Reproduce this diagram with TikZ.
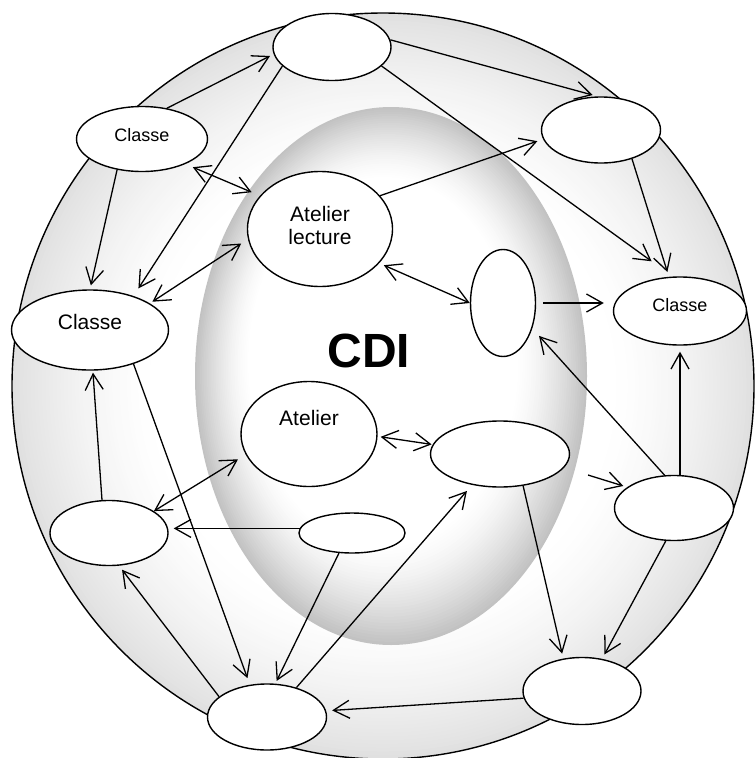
\documentclass[tikz,border=0pt]{standalone}
\usepackage{fontspec}
\setmainfont{Liberation Sans}
\usetikzlibrary{shapes.geometric,arrows.meta}
\begin{document}
\begin{tikzpicture}[x=1pt,y=-1pt,
  el/.style={ellipse, draw, fill=white, line width=1.4pt, inner sep=0pt},
  arr/.style={line width=1.3pt, -{Straight Barb[length=16pt,width=18pt]}, shorten >=5pt},
  darr/.style={line width=1.3pt, {Straight Barb[length=16pt,width=18pt]}-{Straight Barb[length=16pt,width=18pt]}},
  small/.style={font=\fontsize{18}{21}\selectfont},
  big/.style={font=\fontsize{21}{23}\selectfont}]
\useasboundingbox (0,0) rectangle (755,758);
% outer sphere: layered shading
\foreach \i in {0,...,38} {
  \pgfmathsetmacro{\f}{1-\i/100}
  \pgfmathsetmacro{\p}{12*((\f-0.62)/0.38)^1.4}
  \fill[black!\p] (383,386) ellipse [x radius=371*\f, y radius=373*\f];
}
% inner CDI sphere: layered shading
\foreach \i in {0,...,32} {
  \pgfmathsetmacro{\f}{1-\i/100}
  \pgfmathsetmacro{\p}{24*((\f-0.68)/0.32)^1.5}
  \pgfmathsetmacro{\cx}{391-8*(1-\f)/0.32}
  \pgfmathsetmacro{\cy}{376-14*(1-\f)/0.32}
  \fill[black!\p] (\cx,\cy) ellipse [x radius=196*\f, y radius=269*\f];
}
\draw[line width=1.4pt] (383,386) ellipse [x radius=371, y radius=373];
\node[font=\bfseries\fontsize{48}{50}\selectfont] (cdi) at (369,351) {CDI};
% nodes
\node[el, minimum width=118pt, minimum height=67pt] (t) at (332,47) {};
\node[el, small, minimum width=131pt, minimum height=65pt] (c1) at (142,139) {\raisebox{8pt}{Classe}};
\node[el, big, minimum width=145pt, minimum height=115pt] (al) at (320,229) {\raisebox{20pt}{\begin{tabular}{@{}c@{}}Atelier\\lecture\end{tabular}}};
\node[el, big, minimum width=157pt, minimum height=80pt] (c2) at (90,330) {\raisebox{16pt}{Classe}};
\node[el, minimum width=119pt, minimum height=66pt] (tr) at (601,130) {};
\node[el, small, minimum width=133pt, minimum height=68pt] (c3) at (680,311) {\raisebox{12pt}{Classe}};
\node[el, minimum width=65pt, minimum height=107pt] (v) at (503,303) {};
\node[el, big, minimum width=136pt, minimum height=105pt] (at) at (309,434) {\raisebox{32pt}{Atelier}};
\node[el, minimum width=139pt, minimum height=66pt] (m) at (500,454) {};
\node[el, minimum width=118pt, minimum height=65pt] (l) at (109,533) {};
\node[el, minimum width=106pt, minimum height=40pt] (s) at (352,533) {};
\node[el, minimum width=119pt, minimum height=65pt] (r) at (674,508) {};
\node[el, minimum width=119pt, minimum height=66pt] (b) at (267,717) {};
\node[el, minimum width=118pt, minimum height=67pt] (br) at (582,691) {};
% connectors
\draw[arr, shorten >=4pt] (c1.51) -- (t.187);
\draw[arr] (t.7) -- (tr.96);
\draw[arr, shorten >=26pt] (t.-21) -- (c3.102);
\draw[arr, shorten >=9pt] (t.201) -- (c2.38);
\draw[arr, shorten >=4pt] (c1.231) -- (c2.90);
\draw[darr, shorten <=8pt, shorten >=9pt] (c1.-30) -- (al.151);
\draw[darr, shorten <=8pt, shorten >=3pt] (al.188) -- (c2.24);
\draw[arr, shorten >=6pt] (al.29) -- (tr.189);
\draw[arr] (tr.-43) -- (c3.108);
\draw[darr, shorten <=5pt] (al.-30) -- (v.180);
\draw[arr, shorten <=7pt, shorten >=9pt] (v.east) -- (v.east -| c3.west);
\draw[arr, shorten >=10pt] (r.106) -- (v.-41);
\draw[arr, shorten >=6pt] (c3.south |- r.north) -- (c3.south);
\draw[arr, shorten >=7pt] (c2.-38) -- (b.118);
\draw[arr, shorten >=2pt] (l.102) -- (c2.-86);
\draw[darr, shorten >=9pt] (l.26) -- (at.198);
\draw[arr] (s.175) -- (s.175 -| l.east);
\draw[arr, shorten >=3pt] (s.237) -- (b.76);
\draw[arr] (b.157) -- (l.-73);
\draw[arr, shorten >=8pt] (b.45) -- (m.228);
\draw[darr, shorten <=3pt, shorten >=1pt] (at.-2) -- (m.172);
\draw[arr, shorten <=25pt, shorten >=4pt] (m.-12) -- (r.156);
\draw[arr] (m.-54) -- (br.120);
\draw[arr] (r.-104) -- (br.58.6);
\draw[arr, shorten >=6pt] (br.187) -- (b.6);
\end{tikzpicture}
\end{document}
